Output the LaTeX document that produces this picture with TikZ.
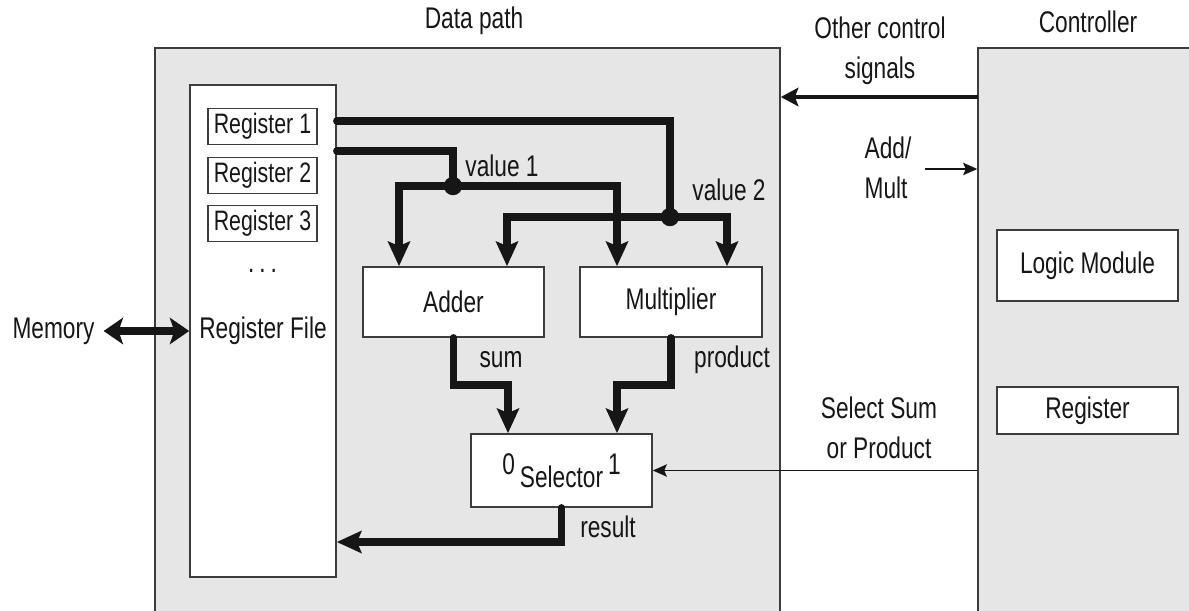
\documentclass[tikz,border=0pt]{standalone}
\usepackage{fontspec}
\setmainfont{Liberation Sans}[FakeStretch=0.76]
\usepackage{tikz}
\usetikzlibrary{arrows.meta,positioning,calc}
\definecolor{ink}{HTML}{161616}
\definecolor{edge}{HTML}{3C3C3C}
\definecolor{panelc}{HTML}{E6E6E6}
\newlength\pxu
\setlength\pxu{0.02cm}
\tikzset{
  panel/.style={draw=edge,fill=panelc,line width=0.9pt,inner sep=0pt},
  blk/.style={draw=edge,fill=white,line width=0.9pt,inner sep=0pt,text=ink},
  lbl/.style={text=ink,inner sep=1pt,align=center},
  bus/.style={line width=4.2pt,draw=ink,line cap=round},
  arr/.style={bus,-{Stealth[length=14pt,width=12.5pt,inset=2.5pt]}},
  dblarr/.style={bus,{Stealth[length=11pt,width=15pt,inset=2.5pt]}-{Stealth[length=11pt,width=15pt,inset=2.5pt]}},
  ctlarr/.style={line width=2.8pt,draw=ink,-{Stealth[length=10pt,width=10.5pt,inset=2pt]}},
  sig/.style={line width=1pt,draw=ink,-{Stealth[length=8pt,width=7pt,inset=1.5pt]}},
  jdot/.style={circle,fill=ink,minimum size=10.5pt,inner sep=0pt},
}

\begin{document}
\begin{tikzpicture}[x=0.02cm,y=-0.02cm,font=\fontsize{17}{22.5}\selectfont]
  \useasboundingbox (0,0) rectangle (1189,611);

  % the two halves
  \node[panel,minimum width=625*\pxu,minimum height=570*\pxu] (dp) at (467.5,333) {};
  \node[panel,minimum width=220*\pxu,minimum height=570*\pxu] (ctl) at (1088,333) {};
  \node[lbl] (dptitle) at (474,21) {Data path};
  \node[lbl] (ctltitle) at (1088,22) {Controller};

  % register file
  \node[blk,minimum width=146*\pxu,minimum height=492*\pxu] (rf) at (263,331) {Register File};
  \foreach \k/\y in {1/126.5,2/175.5,3/223.5}
    \node[blk,minimum width=109*\pxu,minimum height=36*\pxu,font=\fontsize{16}{19}\selectfont]
      (r\k) at (262.5,\y) {Register \k};
  \node[lbl] (rdots) at (262.5,271) {.\,.\,.};

  % units
  \node[blk,minimum width=181*\pxu,minimum height=70*\pxu] (add) at (453.5,302) {Adder};
  \node[blk,minimum width=182*\pxu,minimum height=70*\pxu] (mul) at (671,302) {Multiplier};
  \node[blk,minimum width=181*\pxu,minimum height=73*\pxu] (sel) at (561.5,470.5)
    {\raisebox{0.45em}{0}\,Selector\,\raisebox{0.45em}{1}};
  \node[blk,minimum width=181*\pxu,minimum height=71*\pxu] (logic) at (1087.5,265.5) {Logic Module};
  \node[blk,minimum width=181*\pxu,minimum height=47*\pxu] (creg) at (1087.5,410.5) {Register};
  \node[lbl] (mem) at (53.5,331) {Memory};

  % bend points of the buses
  \coordinate (v1k) at (453,151);
  \coordinate (v1j) at (453,186);
  \coordinate (v1l) at (399,186);
  \coordinate (v1r) at (617,186);
  \coordinate (v2k) at (670,121);
  \coordinate (v2j) at (670,217);
  \coordinate (v2l) at (507,217);
  \coordinate (v2r) at (727,217);
  \coordinate (sk) at (508,385);
  \coordinate (pk) at (617,385);
  \coordinate (rk) at (561.5,542);
  \coordinate (oc) at (978,97);
  \coordinate (am) at (925,169);

  % value 2
  \draw[bus] (rf.east |- v2k) -- (v2k) -- (v2j);
  \draw[arr] (v2j) -| (v2l |- add.north);
  \draw[arr] (v2j) -| (v2r |- mul.north);
  % value 1
  \draw[bus] (rf.east |- v1k) -- (v1k) -- (v1j);
  \draw[arr] (v1j) -| (v1l |- add.north);
  \draw[arr] (v1j) -| (v1r |- mul.north);
  \node[jdot] (j1) at (v1j) {};
  \node[jdot] (j2) at (v2j) {};

  % sum, product, result
  \draw[arr] (add.south) |- (sk) -- (sk |- sel.north);
  \draw[arr] (mul.south) |- (pk) -- (pk |- sel.north);
  \draw[arr] (sel.south) -- (rk) -- (rk -| rf.east);
  \draw[dblarr] ([xshift=4pt]mem.east) -- (rf.west |- mem.east);

  % control lines
  \draw[ctlarr] (oc) -- (oc -| dp.east);
  \draw[sig] (am) -- (am -| ctl.west);
  \draw[sig] (ctl.west |- sel.east) -- (sel.east);

  % labels
  \node[lbl] (v1lbl) at (502,166) {value 1};
  \node[lbl] (v2lbl) at (729,190) {value 2};
  \node[lbl] (sumlbl) at (501,360) {sum};
  \node[lbl] (prodlbl) at (732,360) {product};
  \node[lbl] (reslbl) at (608,527) {result};
  \node[lbl] (oclbl) at (880,51) {Other control\\signals};
  \node[lbl,align=left] (amlbl) at (888,168) {Add/\\Mult};
  \node[lbl] (sslbl) at (879,428) {Select Sum\\or Product};
\end{tikzpicture}
\end{document}
